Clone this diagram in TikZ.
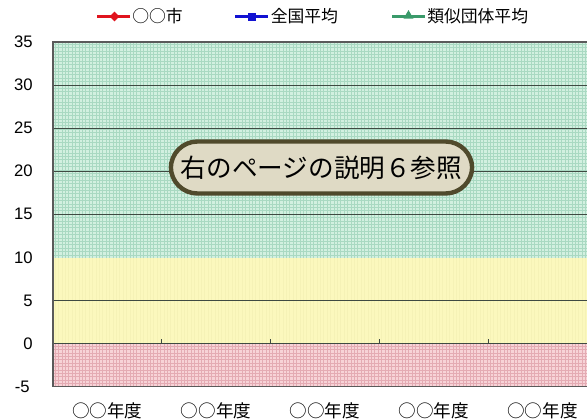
\documentclass[tikz,border=0pt]{standalone}
\usepackage{fontspec}
\setmainfont{Liberation Sans}
\newfontfamily\jp{Noto Sans CJK JP}
\usetikzlibrary{shapes.geometric}
\definecolor{mintfill}{HTML}{D2F0E0}
\definecolor{mintline}{HTML}{A9D9C2}
\definecolor{lemonfill}{HTML}{FBF8BD}
\definecolor{lemonline}{HTML}{F5F2B6}
\definecolor{rosefill}{HTML}{F7D3D7}
\definecolor{roseline}{HTML}{E4ABB3}
\definecolor{gridc}{HTML}{3F4A42}
\definecolor{framec}{HTML}{5A5A5A}
\definecolor{boxfill}{HTML}{DFDAC5}
\definecolor{boxedge}{HTML}{504A2C}
\definecolor{legred}{HTML}{E0141E}
\definecolor{legblue}{HTML}{1212D2}
\definecolor{leggreen}{HTML}{3A9A6A}
\begin{document}
\begin{tikzpicture}[x=0.75pt,y=-0.75pt,
  ylab/.style={anchor=east,font=\fontsize{12.5pt}{14pt}\selectfont,text=black,inner sep=0pt},
  xlab/.style={font=\jp\fontsize{13.2pt}{15pt}\selectfont,inner sep=0pt},
  legtext/.style={anchor=west,font=\jp\fontsize{12.6pt}{14pt}\selectfont,inner sep=0pt},
  legline/.style={line width=2.3pt},
  gridline/.style={draw=gridc,line width=0.75pt},
  framel/.style={draw=framec,line width=1pt},
  texture/.style={line width=0.45pt},
  callout/.style={draw=boxedge,fill=boxfill,line width=3.3pt,rounded corners=20pt,
    minimum width=226pt,minimum height=39pt,inner sep=0pt,
    font=\jp\fontsize{19.2pt}{22pt}\selectfont}]
\useasboundingbox (0,0) rectangle (587,419);
\begin{scope}
\clip (0,0) rectangle (587,419);
% colored bands
\fill[mintfill] (53,42) rectangle (598,257.5);
\fill[lemonfill] (53,257.5) rectangle (598,343.5);
\fill[rosefill] (53,343.5) rectangle (598,386.5);
% textures
\foreach \x in {55,58.4,...,597} {
  \draw[texture,mintline] (\x,42) -- (\x,257.5);
  \draw[texture,roseline] (\x,343.5) -- (\x,386.5);
  \draw[texture,lemonline] (\x,257.5) -- (\x,343.5);
}
\foreach \y in {44,47.4,...,257} {
  \draw[texture,mintline] (53,\y) -- (598,\y);
}
\foreach \y in {346,349.4,...,386} {
  \draw[texture,roseline] (53,\y) -- (598,\y);
}
% grid lines
\foreach \v in {5,15,20,25,30} {
  \draw[gridline] (53,343.5-8.6*\v) -- (598,343.5-8.6*\v);
}
% zero line and ticks
\draw[gridline] (53,343.5) -- (598,343.5);
\foreach \x in {161.75,270.5,379.25,488} {
  \draw[gridline] (\x,343.5) -- (\x,339);
}
% frame
\draw[framel] (598,42) -- (53,42) -- (53,386.5) -- (598,386.5);
\end{scope}
% y labels
\node[ylab] (y35) at (33,41.5) {35};
\node[ylab] (y30) at (33,84.5) {30};
\node[ylab] (y25) at (33,127.5) {25};
\node[ylab] (y20) at (33,171) {20};
\node[ylab] (y15) at (33,214) {15};
\node[ylab] (y10) at (33,257.5) {10};
\node[ylab] (y5) at (33,300.5) {5};
\node[ylab] (y0) at (33,343.5) {0};
\node[ylab] (ym5) at (30,386.5) {-5};
% x labels
\node[xlab] (x1) at (107.4,411) {○○年度};
\node[xlab] (x2) at (216.1,411) {○○年度};
\node[xlab] (x3) at (324.9,411) {○○年度};
\node[xlab] (x4) at (433.6,411) {○○年度};
\node[xlab] (x5) at (542.4,411) {○○年度};
% legend
\coordinate (r1) at (97,16.5);
\coordinate (r2) at (130,16.5);
\draw[legline,legred] (r1) -- (r2);
\node[diamond,fill=legred,inner sep=0pt,minimum size=7.5pt] (rm) at (114.5,16.5) {};
\node[legtext] (rt) at (132,16.5) {○○市};
\coordinate (b1) at (235,16.5);
\coordinate (b2) at (268,16.5);
\draw[legline,legblue] (b1) -- (b2);
\node[rectangle,fill=legblue,inner sep=0pt,minimum size=6pt] (bm) at (251.5,16.5) {};
\node[legtext] (bt) at (270.5,16.5) {全国平均};
\coordinate (g1) at (392,16.5);
\coordinate (g2) at (425,16.5);
\draw[legline,leggreen] (g1) -- (g2);
\node[isosceles triangle,isosceles triangle apex angle=60,shape border rotate=90,fill=leggreen,inner sep=0pt,minimum size=6.5pt] (gm) at (408.5,15.8) {};
\node[legtext] (gt) at (427,16.5) {類似団体平均};
% callout
\node[callout] (note) at (321.5,167.5) {右のページの説明６参照};
\end{tikzpicture}
\end{document}
